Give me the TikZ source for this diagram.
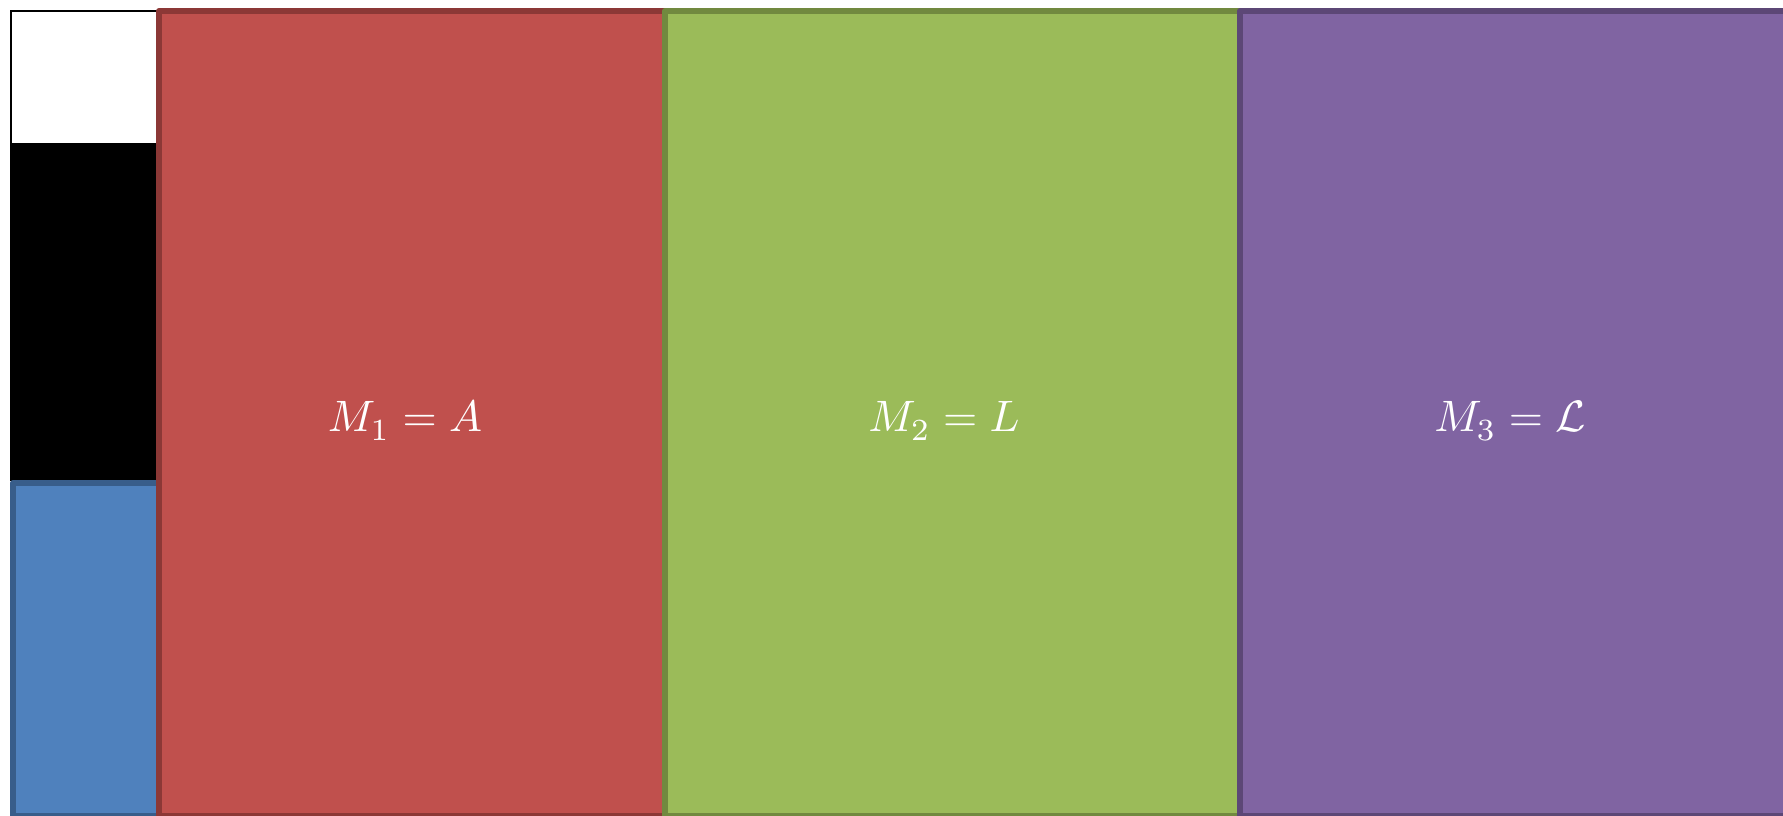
\documentclass[tikz,border=0pt]{standalone}
\usepackage{graphicx}
\definecolor{redfill}{HTML}{C0504D}
\definecolor{redline}{HTML}{8C3836}
\definecolor{greenfill}{HTML}{9BBB59}
\definecolor{greenline}{HTML}{71893F}
\definecolor{purplefill}{HTML}{8064A2}
\definecolor{purpleline}{HTML}{5C4776}
\definecolor{bluefill}{HTML}{4F81BD}
\definecolor{blueline}{HTML}{385D8A}
\tikzset{
  panel/.style={line width=6pt, line join=round},
  label/.style={text=white, anchor=base, inner sep=0pt},
}
\newcommand{\biglabel}[1]{\scalebox{4.4}{#1}}
\begin{document}
\begin{tikzpicture}[x=1pt,y=-1pt]
\useasboundingbox (0,0) rectangle (1783,815);
\begin{scope}
\clip (0,0) rectangle (1783,815);
% left column
\fill[black] (10,144) rectangle (157,481);
\draw[black, line width=2pt, fill=white] (11,144) -- (11,11) -- (160,11) -- (160,144) -- cycle;
\draw[panel, draw=blueline, fill=bluefill] (13,483) rectangle (165,816);
% main panels
\draw[panel, draw=redline, fill=redfill] (159,11) rectangle (668,816);
\draw[panel, draw=greenline, fill=greenfill] (665,11) rectangle (1243,816);
\draw[panel, draw=purpleline, fill=purplefill] (1240,11) rectangle (1790,816);
\end{scope}
\node[label] (m1) at (405,431) {\biglabel{$M_{\raisebox{-0.6pt}{$\scriptstyle 1$}} = A$}};
\node[label] (m2) at (944,431) {\biglabel{$M_{\raisebox{-0.6pt}{$\scriptstyle 2$}} = L$}};
\node[label] (m3) at (1510,431) {\biglabel{$M_{\raisebox{-0.6pt}{$\scriptstyle 3$}} = \mathcal{L}$}};
\end{tikzpicture}
\end{document}
